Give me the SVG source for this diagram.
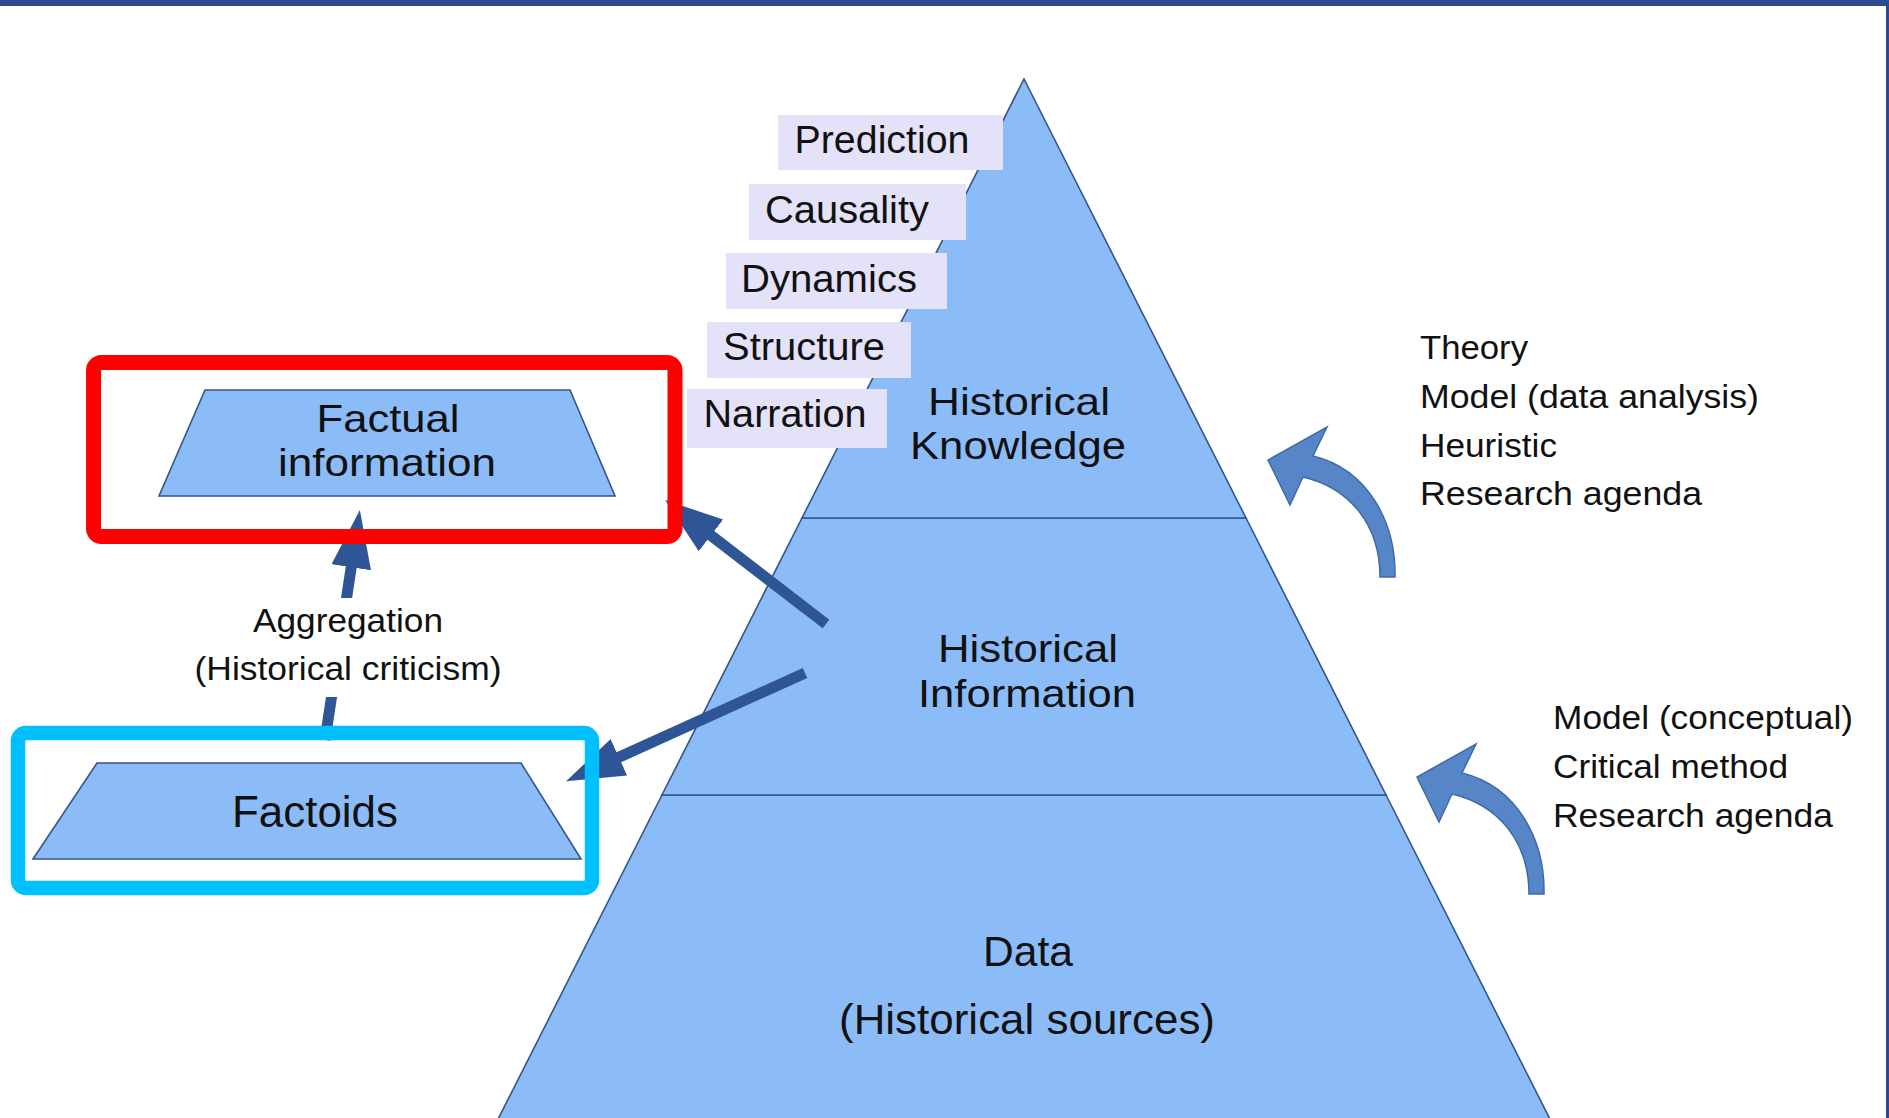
<svg xmlns="http://www.w3.org/2000/svg" width="1889" height="1118" viewBox="0 0 1889 1118">
  <style>
    .tier { fill: #8cbcf8; stroke: #34558a; stroke-width: 1.6; }
    .trap { fill: #8cbcf8; stroke: #34558a; stroke-width: 1.6; }
    .lbl { fill: #e4e2f8; }
    .t { font-family: "Liberation Sans", Arial, Helvetica, sans-serif; fill: #111; }
    .side { font-size: 38px; text-anchor: middle; }
    .main { font-size: 43px; text-anchor: middle; }
    .two { font-size: 39px; text-anchor: middle; }
    .left { font-size: 44px; text-anchor: middle; }
    .agg { font-size: 34px; text-anchor: middle; }
    .note { font-size: 34px; }
    .shaft { stroke: #2e5596; stroke-width: 11; fill: none; marker-end: url(#head); }
    .curved { fill: #5686c8; stroke: #3f6aa8; stroke-width: 1.5; }
    .hl-red { fill: none; stroke: #ff0000; stroke-width: 15; }
    .hl-cyan { fill: none; stroke: #00bfff; stroke-width: 14.5; }
  </style>
  <defs>
    <marker id="head" viewBox="0 0 58 40" markerWidth="58" markerHeight="40" refX="28" refY="20" orient="auto" markerUnits="userSpaceOnUse">
      <path d="M0,0 L58,20 L0,40 Z" fill="#2e5596"/>
    </marker>
    <path id="curvedArrow" class="curved" d="M1395,577 C1396,525 1370,470 1313,456 L1327,427 L1268,460 L1290,505 L1303,477 C1350,488 1380,525 1380,577 Z"/>
  </defs>

  <rect x="0" y="0" width="1889" height="1118" fill="#ffffff"/>
  <rect x="0" y="0" width="1889" height="6" fill="#2e4a8f"/>
  <rect x="1886" y="0" width="3" height="1118" fill="#2e4a8f"/>

  <g id="tier-data">
    <polygon class="tier" points="662,795 1386,795 1557,1133 491,1133"/>
    <text class="t main" x="1028" y="966" textLength="90" lengthAdjust="spacingAndGlyphs">Data</text>
    <text class="t main" x="1027" y="1034" textLength="376" lengthAdjust="spacingAndGlyphs">(Historical sources)</text>
  </g>
  <g id="tier-information">
    <polygon class="tier" points="802,518 1246,518 1386,795 662,795"/>
    <text class="t two" x="1028" y="662" textLength="180" lengthAdjust="spacingAndGlyphs">Historical</text>
    <text class="t two" x="1027" y="707" textLength="218" lengthAdjust="spacingAndGlyphs">Information</text>
  </g>
  <g id="tier-knowledge">
    <polygon class="tier" points="1024,79 1246,518 802,518"/>
    <text class="t two" x="1019" y="415" textLength="182" lengthAdjust="spacingAndGlyphs">Historical</text>
    <text class="t two" x="1018" y="459" textLength="216" lengthAdjust="spacingAndGlyphs">Knowledge</text>
  </g>

  <g id="label-prediction">
    <rect class="lbl" x="778" y="115" width="225" height="55"/>
    <text class="t side" x="882" y="153" textLength="175" lengthAdjust="spacingAndGlyphs">Prediction</text>
  </g>
  <g id="label-causality">
    <rect class="lbl" x="749" y="184" width="217" height="56"/>
    <text class="t side" x="847" y="223" textLength="164" lengthAdjust="spacingAndGlyphs">Causality</text>
  </g>
  <g id="label-dynamics">
    <rect class="lbl" x="726" y="253" width="221" height="56"/>
    <text class="t side" x="829" y="292" textLength="176" lengthAdjust="spacingAndGlyphs">Dynamics</text>
  </g>
  <g id="label-structure">
    <rect class="lbl" x="707" y="322" width="204" height="56"/>
    <text class="t side" x="804" y="360" textLength="162" lengthAdjust="spacingAndGlyphs">Structure</text>
  </g>
  <g id="label-narration">
    <rect class="lbl" x="687" y="389" width="200" height="59"/>
    <text class="t side" x="785" y="427" textLength="163" lengthAdjust="spacingAndGlyphs">Narration</text>
  </g>

  <g id="factual-information">
    <polygon class="trap" points="205,390 570,390 615,496 159,496"/>
    <text class="t two" x="388" y="432" textLength="143" lengthAdjust="spacingAndGlyphs">Factual</text>
    <text class="t two" x="387" y="476" textLength="218" lengthAdjust="spacingAndGlyphs">information</text>
  </g>
  <g id="factoids">
    <polygon class="trap" points="97,763 521,763 581,859 33,859"/>
    <text class="t left" x="315" y="827" textLength="166" lengthAdjust="spacingAndGlyphs">Factoids</text>
  </g>

  <g id="connectors">
    <line class="shaft" x1="325" y1="740" x2="355.4" y2="539.6"/>
    <line class="shaft" x1="826" y1="624" x2="688.8" y2="518.3"/>
    <line class="shaft" x1="805" y1="673" x2="593.4" y2="768.8"/>
    <use href="#curvedArrow"/>
    <use href="#curvedArrow" transform="translate(149,317)"/>
  </g>

  <g id="aggregation-label">
    <rect x="190" y="598" width="316" height="99" fill="#ffffff"/>
    <text class="t agg" x="348" y="632" textLength="190" lengthAdjust="spacingAndGlyphs">Aggregation</text>
    <text class="t agg" x="348" y="680" textLength="307" lengthAdjust="spacingAndGlyphs">(Historical criticism)</text>
  </g>

  <g id="notes-upper">
    <text class="t note" x="1420" y="359" textLength="108" lengthAdjust="spacingAndGlyphs">Theory</text>
    <text class="t note" x="1420" y="408" textLength="339" lengthAdjust="spacingAndGlyphs">Model (data analysis)</text>
    <text class="t note" x="1420" y="457" textLength="137" lengthAdjust="spacingAndGlyphs">Heuristic</text>
    <text class="t note" x="1420" y="505" textLength="282" lengthAdjust="spacingAndGlyphs">Research agenda</text>
  </g>
  <g id="notes-lower">
    <text class="t note" x="1553" y="729" textLength="300" lengthAdjust="spacingAndGlyphs">Model (conceptual)</text>
    <text class="t note" x="1553" y="778" textLength="235" lengthAdjust="spacingAndGlyphs">Critical method</text>
    <text class="t note" x="1553" y="827" textLength="280" lengthAdjust="spacingAndGlyphs">Research agenda</text>
  </g>

  <g id="highlight-red">
    <rect class="hl-red" x="93.5" y="362.5" width="581.5" height="174" rx="8"/>
  </g>
  <g id="highlight-cyan">
    <rect class="hl-cyan" x="18" y="733" width="574" height="155" rx="8"/>
  </g>
</svg>
